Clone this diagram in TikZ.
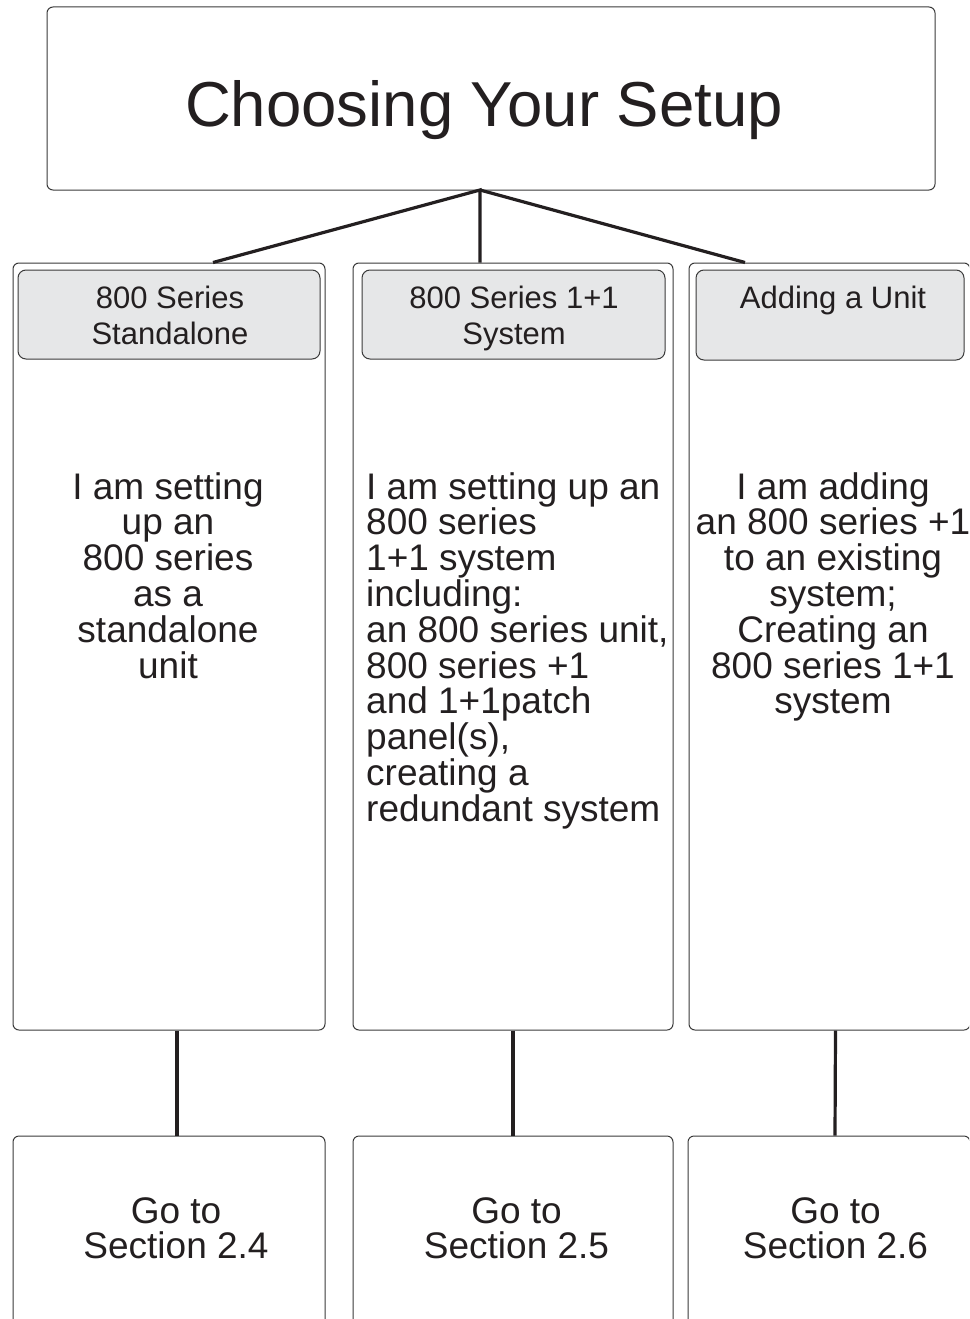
\documentclass[tikz,border=0pt]{standalone}
\usepackage{fontspec}
\setmainfont{Liberation Sans}
\definecolor{ink}{HTML}{231F20}
\definecolor{edge}{HTML}{3A3A3A}
\definecolor{hdr}{HTML}{E6E7E8}
\begin{document}
\begin{tikzpicture}[x=1pt,y=-1pt,
  box/.style={draw=edge,line width=1pt,rounded corners=6pt,fill=white,inner sep=0pt},
  hdrbox/.style={draw=edge,line width=1pt,rounded corners=8pt,fill=hdr,inner sep=0pt},
  conn/.style={draw=ink,line width=3.2pt},
  hdrtxt/.style={text=ink,font=\fontsize{31}{36}\selectfont,align=center,inner sep=0pt,anchor=north},
  bodytxt/.style={text=ink,font=\fontsize{37}{35.8}\selectfont,inner sep=0pt,anchor=north},
  gotxt/.style={text=ink,font=\fontsize{37}{35}\selectfont,align=center,inner sep=0pt,anchor=north}]
\useasboundingbox (0,0) rectangle (969,1319);
\clip (0,0) rectangle (969,1319);
% title
\node[box,minimum width=888pt,minimum height=183pt] (title) at (491,98.5) {};
\node[text=ink,font=\fontsize{63.5}{70}\selectfont,inner sep=0pt,anchor=base] (ttl) at (484,127) {Choosing Your Setup};
% column outer boxes
\node[box,minimum width=312pt,minimum height=767pt] (c1) at (169,646.5) {};
\node[box,minimum width=320pt,minimum height=767pt] (c2) at (513,646.5) {};
\node[box,minimum width=281pt,minimum height=767pt] (c3) at (829.5,646.5) {};
% headers
\node[hdrbox,minimum width=302pt,minimum height=89pt] (h1) at (169,314.5) {};
\node[hdrbox,minimum width=303pt,minimum height=89pt] (h2) at (513.5,314.5) {};
\node[hdrbox,minimum width=268pt,minimum height=90pt] (h3) at (830,315) {};
\node[hdrtxt] (h1t) at (170,286) {800 Series\\Standalone};
\node[hdrtxt] (h2t) at (514,286) {800 Series 1+1\\System};
\node[hdrtxt] (h3t) at (833,286) {Adding a Unit};
% body texts
\node[bodytxt,align=center] (b1) at (168,472) {I am setting\\up an\\800 series\\as a\\standalone\\unit};
\node[bodytxt,align=left,anchor=north west] (b2) at (366,472) {I am setting up an\\800 series\\1+1 system\\including:\\an 800 series unit,\\800 series +1\\and 1+1patch\\panel(s),\\creating a\\redundant system};
\node[bodytxt,align=center] (b3) at (833,472) {I am adding\\an 800 series +1\\to an existing\\system;\\Creating an\\800 series 1+1\\system};
% bottom boxes
\node[box,minimum width=312pt,minimum height=200pt] (g1) at (169,1236) {};
\node[box,minimum width=320pt,minimum height=200pt] (g2) at (513,1236) {};
\node[box,minimum width=282pt,minimum height=200pt] (g3) at (829,1236) {};
\node[gotxt] (g1t) at (176,1197) {Go to\\Section 2.4};
\node[gotxt] (g2t) at (516.5,1197) {Go to\\Section 2.5};
\node[gotxt] (g3t) at (835.5,1197) {Go to\\Section 2.6};
% connectors
\coordinate (apex) at (480,190);
\draw[conn] ([xshift=44pt]c1.north) -- (apex) -- ([xshift=-33pt]c2.north);
\draw[conn] (apex) -- ([xshift=-84.5pt]c3.north);
\draw[conn] ([xshift=8pt]c1.south) -- ([xshift=8pt]g1.north);
\draw[conn] (c2.south) -- (g2.north);
\draw[conn] ([xshift=6pt]c3.south) -- ([xshift=6pt]g3.north);
\end{tikzpicture}
\end{document}
